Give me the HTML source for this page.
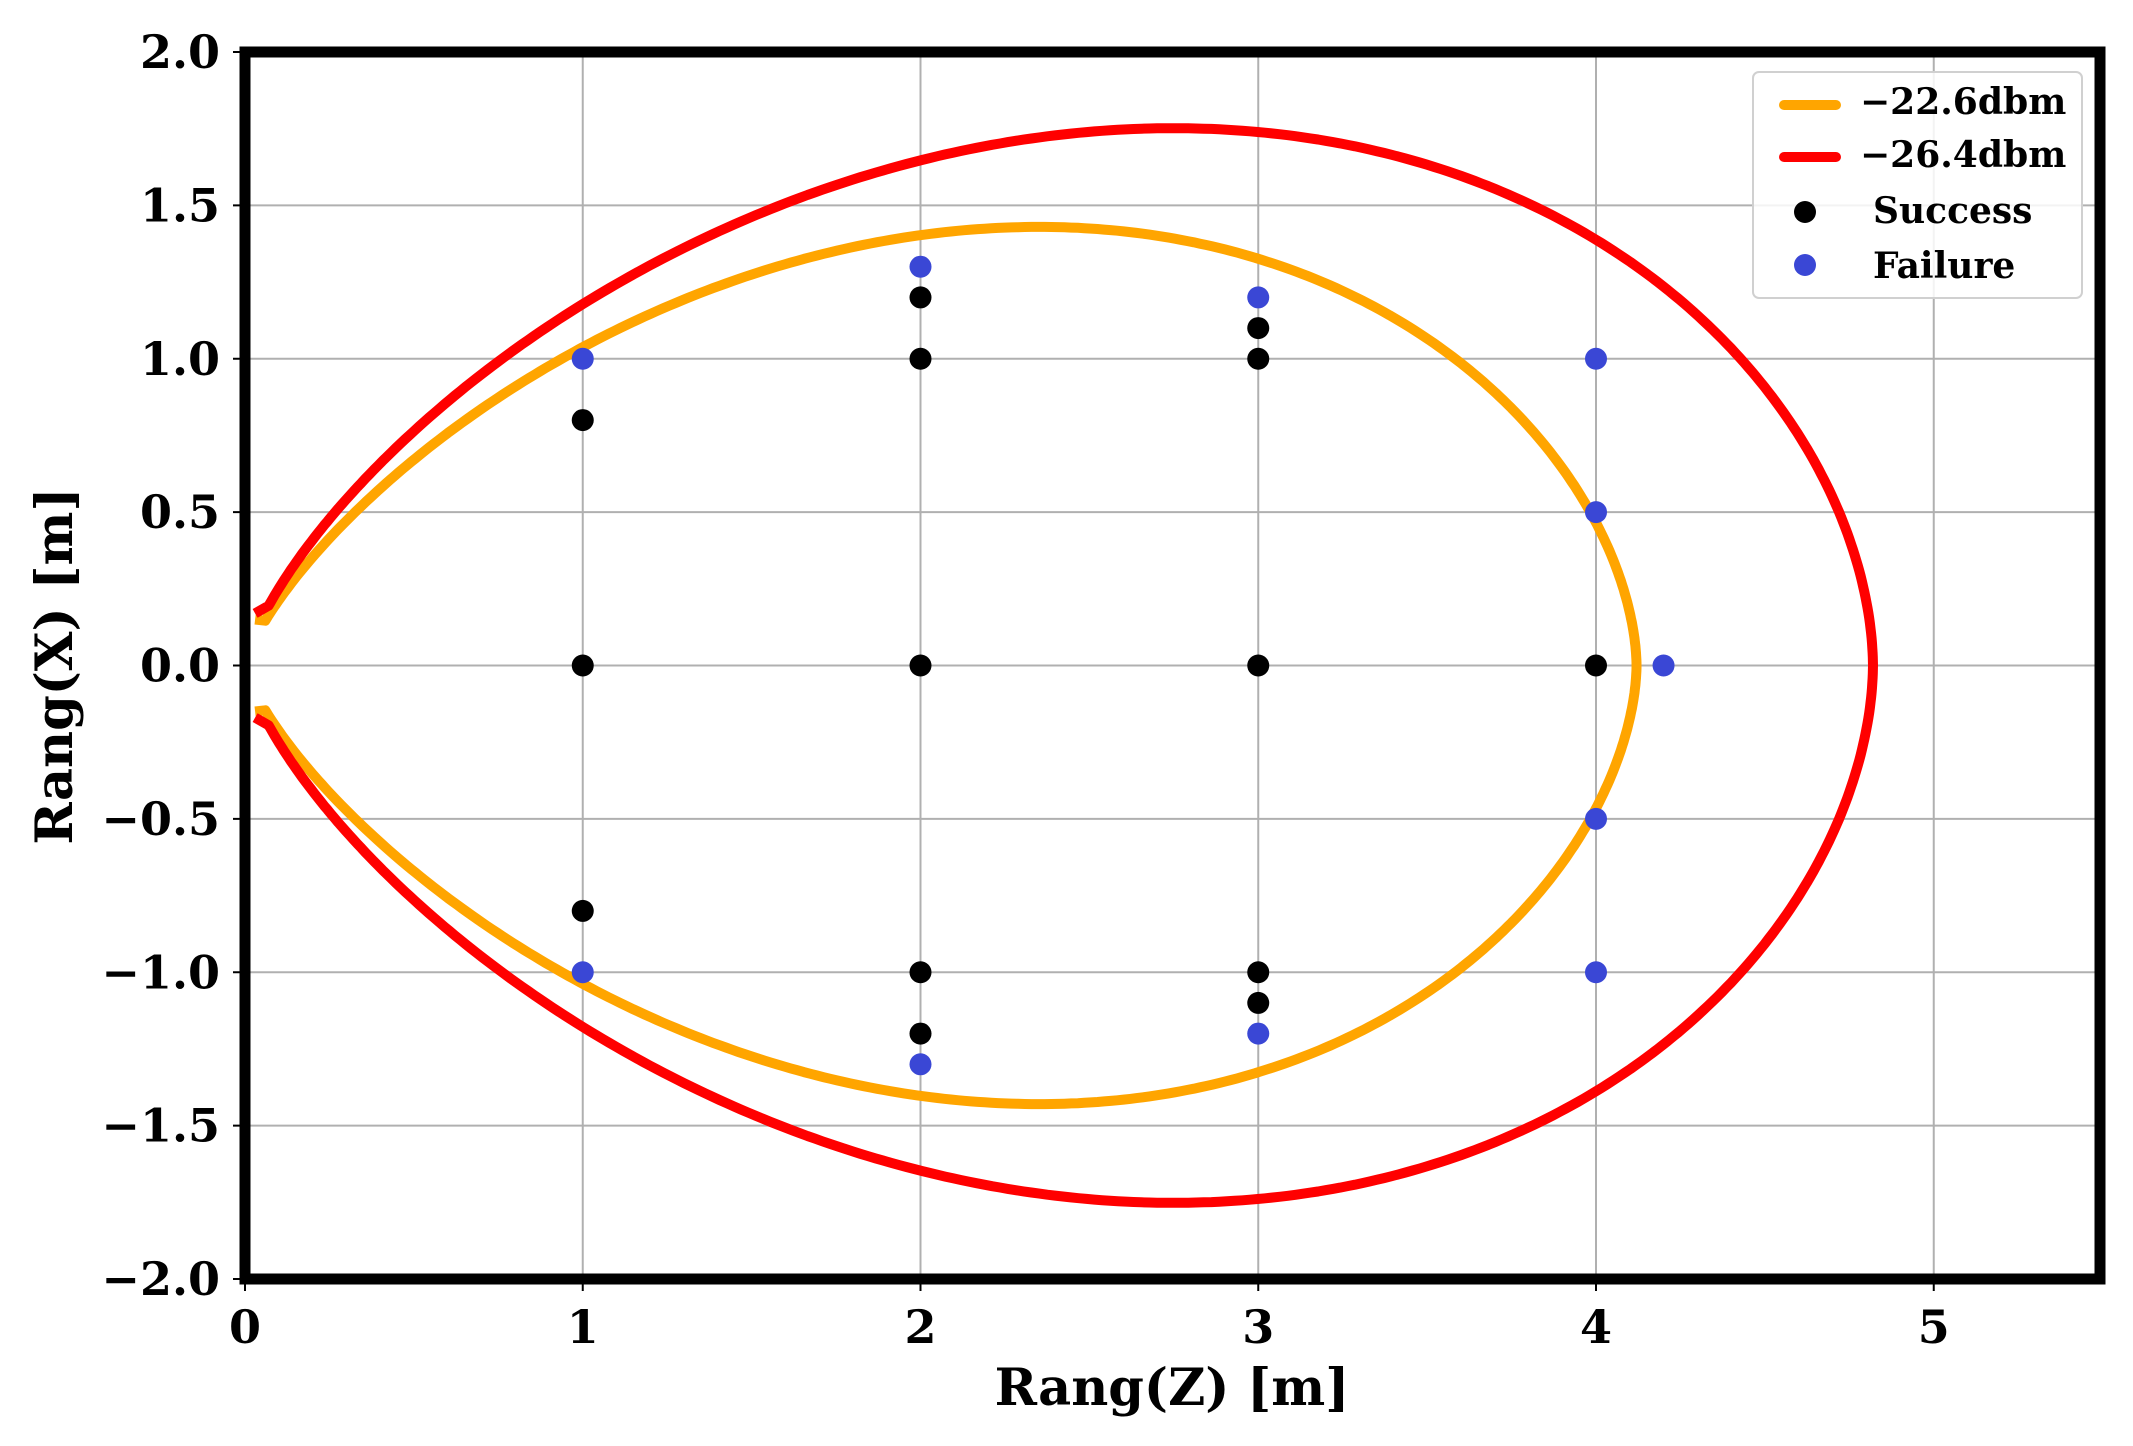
<!DOCTYPE html>
<html><head><meta charset="utf-8"><style>
html,body{margin:0;padding:0;background:#fff;}
svg text{font-family:"DejaVu Serif","Liberation Serif",serif;font-weight:bold;fill:#000;}
</style></head><body>
<svg id="s" width="2133" height="1441" viewBox="0 0 2133 1441" xmlns="http://www.w3.org/2000/svg">
<rect width="2133" height="1441" fill="#fff"/>
<g id="grid" stroke="#b0b0b0" stroke-width="2"></g>
<g id="curves" fill="none" stroke-linejoin="round" stroke-linecap="butt"></g>
<g id="pts"></g>
<rect x="245" y="52" width="1855" height="1227" fill="none" stroke="#000" stroke-width="11"/>
<g id="ticks" stroke="#000" stroke-width="2"></g>
<g id="labels"></g>
<text x="1172" y="1405" font-size="51" text-anchor="middle">Rang(Z) [m]</text>
<text transform="translate(72,666) rotate(-90)" font-size="51" text-anchor="middle">Rang(X) [m]</text>
<g>
<rect x="1753" y="72" width="329" height="226" rx="6" fill="#fff" fill-opacity="0.85" stroke="#d0d0d0" stroke-width="2"/>
<line x1="1784" y1="105" x2="1836" y2="105" stroke="#ffa500" stroke-width="10" stroke-linecap="round"/>
<line x1="1784" y1="157" x2="1836" y2="157" stroke="#ff0000" stroke-width="10" stroke-linecap="round"/>
<circle cx="1805" cy="212" r="11" fill="#000"/>
<circle cx="1805" cy="265" r="11" fill="#3a47d5"/>
<text x="1860" y="114" font-size="36">−22.6dbm</text>
<text x="1860" y="167" font-size="36">−26.4dbm</text>
<text x="1873" y="223" font-size="36">Success</text>
<text x="1873" y="278" font-size="36">Failure</text>
</g>
</svg>
<script>
(function(){
var NS="http://www.w3.org/2000/svg";
var X0=245,XU=337.75,Y0=665.5,YU=306.75;
function px(x){return X0+x*XU;} function py(y){return Y0-y*YU;}
function el(p,tag,a){var e=document.createElementNS(NS,tag);for(var k in a)e.setAttribute(k,a[k]);p.appendChild(e);return e;}
var g=document.getElementById('grid'),t=document.getElementById('ticks'),l=document.getElementById('labels');
for(var i=0;i<=5;i++){el(g,'line',{x1:px(i),y1:52,x2:px(i),y2:1279});
 el(t,'line',{x1:px(i),y1:1279,x2:px(i),y2:1291});
 var tx=el(l,'text',{x:px(i),y:1343,'font-size':46,'text-anchor':'middle'});tx.textContent=i;}
for(var j=-4;j<=4;j++){var v=j*0.5;el(g,'line',{x1:245,y1:py(v),x2:2100,y2:py(v)});
 el(t,'line',{x1:233,y1:py(v),x2:245,y2:py(v)});
 var s=(v<0?'−':'')+Math.abs(v).toFixed(1);
 var ty=el(l,'text',{x:220,y:py(v)+16,'font-size':46,'text-anchor':'end'});ty.textContent=s;}
var c=document.getElementById('curves');
function curve(R,C,a,b,x0,y0,col){
 var xs=[],N=300,i;
 var f0=Math.asin(Math.sqrt(x0/R));
 for(i=0;i<=N;i++){var f=f0+(Math.PI/2-f0)*i/N;xs.push(R*Math.sin(f)*Math.sin(f));}
 function Y(x){return C*Math.pow(x,a)*Math.pow(Math.max(R-x,0),b);}
 var d='M'+px(0.03).toFixed(1)+','+py(y0).toFixed(1);
 for(i=0;i<xs.length;i++)d+='L'+px(xs[i]).toFixed(1)+','+py(Y(xs[i])).toFixed(1);
 for(i=xs.length-1;i>=0;i--)d+='L'+px(xs[i]).toFixed(1)+','+py(-Y(xs[i])).toFixed(1);
 d+='L'+px(0.03).toFixed(1)+','+py(-y0).toFixed(1);
 el(c,'path',{d:d,stroke:col,'stroke-width':10});}
curve(4.12,0.5456,0.75,0.565,0.06,0.15,'#ffa500');
curve(4.82,0.569,0.721,0.543,0.07,0.17,'#ff0000');
var p=document.getElementById('pts');
var succ=[[1,0.8],[1,0],[1,-0.8],[2,1.2],[2,1],[2,0],[2,-1],[2,-1.2],[3,1.1],[3,1],[3,0],[3,-1],[3,-1.1],[4,0]];
var fail=[[1,1],[1,-1],[2,1.3],[2,-1.3],[3,1.2],[3,-1.2],[4,1],[4,0.5],[4,-0.5],[4,-1],[4.2,0]];
succ.forEach(function(a){el(p,'circle',{cx:px(a[0]),cy:py(a[1]),r:11,fill:'#000'});});
fail.forEach(function(a){el(p,'circle',{cx:px(a[0]),cy:py(a[1]),r:11,fill:'#3a47d5'});});
})();
</script>
</body></html>
